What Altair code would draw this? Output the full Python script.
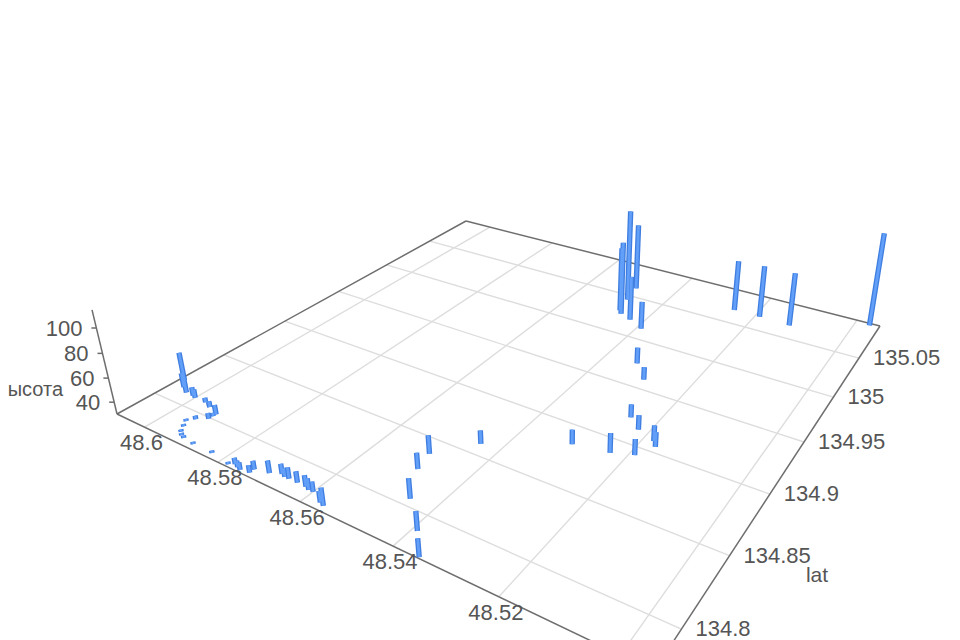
import altair as alt
import numpy as np
import pandas as pd

# --- data: one entry per bar ---
lng = [48.497,48.512,48.519,48.525,48.548,48.549,48.546,48.547,48.543,48.539,48.533,48.529,48.525,48.522,48.518,48.517,48.519,48.523,48.530,
       48.544,48.550,48.549,48.545,48.539,48.535,48.556,48.557,48.560,48.561,48.562,48.564,48.566,48.567,48.568,48.570,48.573,48.573,48.575,48.576,48.577,48.578,
       48.583,48.588,48.591,48.592,48.593,48.594,48.595,48.594,48.592,48.592,48.592,48.595,48.595,48.597,48.607,48.605,48.603,48.601,48.600]
lat = [135.094,135.067,135.068,135.068,135.044,135.062,135.024,135.028,135.020,135.013,134.974,134.960,134.922,134.914,134.909,134.905,134.893,134.888,134.884,
       134.859,134.838,134.825,134.805,134.789,134.776,134.779,134.780,134.784,134.784,134.785,134.785,134.785,134.785,134.786,134.783,134.781,134.778,134.777,134.778,134.779,134.777,
       134.779,134.779,134.780,134.781,134.783,134.787,134.791,134.795,134.799,134.802,134.804,134.807,134.807,134.809,134.818,134.813,134.810,134.810,134.809]
height = [113,78,77,76,113,91,96,88,70,55,44,41,41,42,43,42,43,46,42,
          41,45,43,46,45,44,44,39,38,39,39,39,39,37,38,40,37,36,36,35,35,32,
          32,32,32,32,32,32,32,33,35,33,38,34,35,34,54,42,42,37,37]

lng_ticks = [48.6, 48.58, 48.56, 48.54, 48.52, 48.5]
lng_labels = ["48.6", "48.58", "48.56", "48.54", "48.52"]
lat_ticks = [134.8, 134.85, 134.9, 134.95, 135.0, 135.05]
lat_labels = ["134.8", "134.85", "134.9", "134.95", "135", "135.05"]
height_ticks = [40, 60, 80, 100]
height_labels = ["40", "60", "80", "100"]

# --- camera: perspective projection of (lng, lat, height) onto the page ---
LNG_MAX, LNG_SPAN = 48.6081, 0.11314
LAT_MIN, LAT_SPAN = 134.7753, 0.32143
H0, HTOP = 30, 114
CAM = np.array([[340.6233, 563.8339, 117.0],
                [55.5187, -91.1152, 414.0],
                [-0.30027, 0.46102, 1.0]])
VP = np.array([558.0, 2254.0])
K = (328 - 414) / (70 * (2254 - 328))


def project(u, v, h):
    u, v, h = np.asarray(u, float), np.asarray(v, float), np.asarray(h, float)
    s = (LNG_MAX - u) / LNG_SPAN
    t = (v - LAT_MIN) / LAT_SPAN
    kd = K * (h - H0)
    w = CAM[2, 0] * s + CAM[2, 1] * t + 1 + kd
    x = (CAM[0, 0] * s + CAM[0, 1] * t + CAM[0, 2] + kd * VP[0]) / w
    y = (CAM[1, 0] * s + CAM[1, 1] * t + CAM[1, 2] + kd * VP[1]) / w
    return x, y


def segments(u0, v0, h0, u1, v1, h1):
    x, y = project(u0, v0, h0)
    x2, y2 = project(u1, v1, h1)
    return pd.DataFrame({"x": np.atleast_1d(x), "y": np.atleast_1d(y),
                         "x2": np.atleast_1d(x2), "y2": np.atleast_1d(y2)})


LNG_MIN = LNG_MAX - LNG_SPAN
LAT_MAX = LAT_MIN + LAT_SPAN

W, H = 944, 632
xs = alt.Scale(domain=[8, 8 + W], range=[0, W], nice=False, zero=False)
ys = alt.Scale(domain=[8, 8 + H], range=[0, H], nice=False, zero=False)


def rule(df, color, width, cap="butt"):
    return alt.Chart(df).mark_rule(color=color, strokeWidth=width, strokeCap=cap, clip=False).encode(
        x=alt.X("x:Q", scale=xs, axis=None), y=alt.Y("y:Q", scale=ys, axis=None),
        x2="x2:Q", y2="y2:Q")


def text(df, align, dx=0, dy=0):
    return alt.Chart(df).mark_text(font="Liberation Sans", fontSize=22, color="#555555",
                                   align=align, baseline="middle", dx=dx, dy=dy).encode(
        x=alt.X("x:Q", scale=xs, axis=None), y=alt.Y("y:Q", scale=ys, axis=None), text="label:N")


n_lng, n_lat = len(lng_ticks), len(lat_ticks)
grid = pd.concat([
    segments(lng_ticks, [LAT_MIN] * n_lng, [H0] * n_lng, lng_ticks, [LAT_MAX] * n_lng, [H0] * n_lng),
    segments([LNG_MIN] * n_lat, lat_ticks, [H0] * n_lat, [LNG_MAX] * n_lat, lat_ticks, [H0] * n_lat),
])
edges = segments([LNG_MAX, LNG_MAX, LNG_MIN, LNG_MIN, LNG_MAX],
                 [LAT_MIN, LAT_MAX, LAT_MAX, LAT_MIN, LAT_MIN],
                 [H0] * 5,
                 [LNG_MAX, LNG_MIN, LNG_MIN, LNG_MAX, LNG_MAX],
                 [LAT_MAX, LAT_MAX, LAT_MIN, LAT_MIN, LAT_MIN],
                 [H0] * 4 + [HTOP])
n_h = len(height_ticks)
hx, hy = project([LNG_MAX] * n_h, [LAT_MIN] * n_h, height_ticks)
hticks = pd.DataFrame({"x": hx, "y": hy, "x2": hx - 5, "y2": hy})

bars = segments(lng, lat, [H0] * len(lng), lng, lat, height)

n_lab = len(lng_labels)
lx, ly = project(lng_ticks[:n_lab], [LAT_MIN] * n_lab, [H0] * n_lab)
lng_df = pd.DataFrame({"x": lx, "y": ly, "label": lng_labels})
ax_, ay_ = project([LNG_MIN] * n_lat, lat_ticks, [H0] * n_lat)
lat_df = pd.DataFrame({"x": ax_, "y": ay_, "label": lat_labels})
h_df = pd.DataFrame({"x": hx, "y": hy, "label": height_labels})

lat_name = alt.Chart(pd.DataFrame({"label": ["lat"]})).mark_text(
    font="Liberation Sans", fontSize=21, color="#555555", align="center", baseline="middle"
).encode(x=alt.value(809), y=alt.value(568), text="label:N")
h_name = alt.Chart(pd.DataFrame({"label": ["высота"]})).mark_text(
    font="Liberation Sans", fontSize=20, color="#555555", align="right", baseline="middle"
).encode(x=alt.value(55), y=alt.value(382), text="label:N")

chart = alt.layer(
    rule(grid, "#dddddd", 1.4),
    rule(edges, "#6e6e6e", 1.5),
    rule(hticks, "#6e6e6e", 1.5),
    text(lng_df, "center", dx=-3, dy=16),
    text(lat_df, "left", dx=14),
    text(h_df, "right", dx=-14, dy=1),
    lat_name,
    h_name,
    rule(bars, "#3f7ee0", 5.4),
    rule(bars, "#629ff8", 2.8),
).properties(width=W, height=H, padding=0, background="white",
             autosize=alt.AutoSizeParams(type="none")).configure_view(stroke=None)

chart.save("out.html", embed_options={"renderer": "svg", "actions": False})
